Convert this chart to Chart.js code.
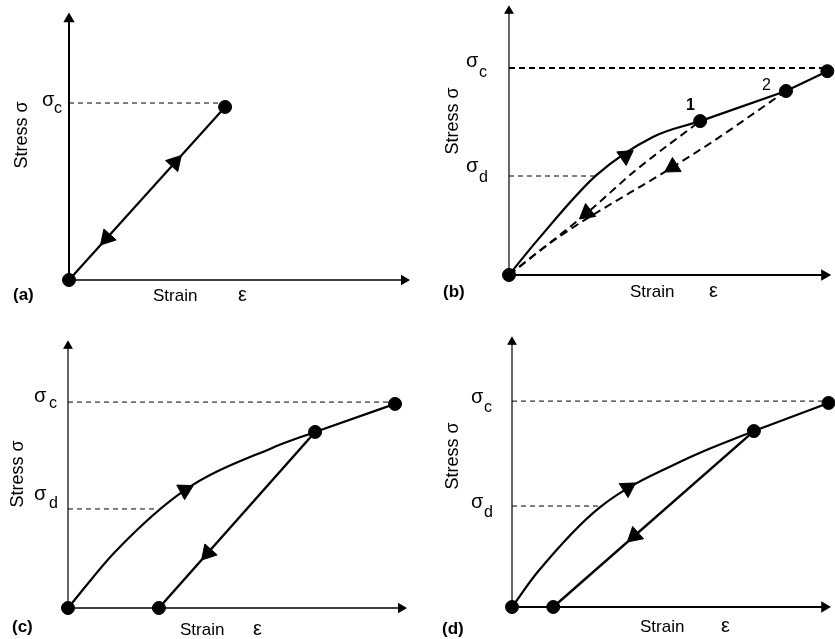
<!DOCTYPE html>
<html>
<head>
<meta charset="utf-8">
<script src="https://cdn.jsdelivr.net/npm/chart.js@4.4.0/dist/chart.umd.min.js"></script>
<style>
  body{margin:0;background:#fff;}
  canvas{position:absolute;}
</style>
</head>
<body>
<canvas id="pa" width="417" height="318" style="left:0;top:0"></canvas>
<canvas id="pb" width="418" height="318" style="left:417px;top:0"></canvas>
<canvas id="pc" width="417" height="321" style="left:0;top:318px"></canvas>
<canvas id="pd" width="418" height="321" style="left:417px;top:318px"></canvas>
<script>
const FONT = '"Liberation Sans", Arial, sans-serif';
const AXIS_MAX = 10;

// text
const panelTags = ['(a)', '(b)', '(c)', '(d)'];
const xTitle = 'Strain';
const xSymbol = 'ε';
const yTitle = 'Stress σ';
const pointNames = ['1', '2'];

// (a) elastic: load and unload on the same line
const aPath = [[0,0],[4.66,6.63]];
const aSigmaC = 6.78;
const aDots = [[0,0],[4.66,6.63]];
const aArrows = [[3.16,4.50, 4.66,6.63],[1.13,1.61, 0,0]];   // x, y, heading x, heading y

// (b) damage, unloading back to origin
const bLoading = [[0,0],[0.91,1.33],[2.78,3.79],[4.56,5.23],[6.06,5.83]];
const bUpper = [[6.06,5.83],[8.78,6.97],[10.09,7.72]];
const bUnload1 = [[0,0],[2.47,2.35],[4.03,3.98],[6.06,5.83]];
const bUnload2 = [[0,0],[1.44,1.33],[5.19,4.09],[6.44,5.04],[8.78,6.97]];
const bSigmaC = 7.84, bSigmaD = 3.75;
const bDots = [[0,0],[6.06,5.83],[8.78,6.97],[10.09,7.72]];
const bArrows = [[3.69,4.51, 4.56,5.23],[2.47,2.35, 0,0],[5.19,4.09, 1.44,1.33]];

// (c) plastic, large residual strain
const cLoading = [[0,0],[1.41,2.14],[3.51,4.50],[6.13,6.11],[7.42,6.72]];
const cUpper = [[7.42,6.72],[9.82,7.79]];
const cUnload = [[2.73,0],[7.42,6.72]];
const cSigmaC = 7.86, cSigmaD = 3.78;
const cDots = [[0,0],[2.73,0],[7.42,6.72],[9.82,7.79]];
const cArrows = [[3.51,4.50, 4.92,5.46],[4.20,2.10, 2.73,0]];

// (d) damage + small residual strain
const dLoading = [[0,0],[0.82,1.32],[2.82,3.77],[5.64,5.62],[7.74,6.64]];
const dUpper = [[7.74,6.64],[10.13,7.70]];
const dUnload = [[1.32,0],[7.74,6.64]];
const dSigmaC = 7.77, dSigmaD = 3.81;
const dDots = [[0,0],[1.32,0],[7.74,6.64],[10.13,7.70]];
const dArrows = [[3.70,4.49, 4.26,4.91],[3.92,2.69, 1.32,0]];

const xy = arr => arr.map(([x, y]) => ({x, y}));

function line(data, width, dash, smooth){
  return {
    data: xy(data), showLine: true, borderColor: '#000', borderWidth: width,
    borderDash: dash || [], pointRadius: 0, clip: false,
    tension: smooth ? 0.4 : 0, cubicInterpolationMode: smooth ? 'monotone' : 'default'
  };
}

function axis(data, width, rot){
  return {
    data: xy(data), showLine: true, borderColor: '#000', borderWidth: width, clip: false,
    pointStyle: 'triangle', pointRotation: rot, pointBackgroundColor: '#000', pointBorderColor: '#000',
    pointRadius: c => c.dataIndex === 1 ? 4.5 : 0
  };
}

function dots(data){
  return { data: xy(data), showLine: false, clip: false, pointRadius: 6.5,
    pointBackgroundColor: '#000', pointBorderColor: '#000' };
}

function arrows(list){
  return {
    data: xy(list.map(a => [a[0], a[1]])), showLine: false, clip: false,
    pointStyle: 'triangle', pointRadius: 9.5, pointBorderWidth: 1,
    pointBackgroundColor: '#000', pointBorderColor: '#000',
    pointRotation: c => {
      const a = list[c.dataIndex];
      const xs = c.chart.scales.x, ys = c.chart.scales.y;
      const dx = xs.getPixelForValue(a[2]) - xs.getPixelForValue(a[0]);
      const dy = ys.getPixelForValue(a[3]) - ys.getPixelForValue(a[1]);
      return Math.atan2(dx, -dy) * 180 / Math.PI;
    }
  };
}

const panelText = {
  id: 'panelText',
  afterDraw(chart, args, opts){
    const ctx = chart.ctx;
    ctx.save();
    ctx.fillStyle = '#000';
    ctx.textBaseline = 'alphabetic';
    (opts.items || []).forEach(t => {
      ctx.font = (t.bold ? 'bold ' : '') + (t.size || 17) + 'px ' + FONT;
      if(t.rot){
        ctx.save();
        ctx.translate(t.x, t.y);
        ctx.rotate(-Math.PI / 2);
        ctx.textAlign = 'center';
        ctx.fillText(t.text, 0, 0);
        ctx.restore();
      } else {
        ctx.textAlign = 'left';
        ctx.fillText(t.text, t.x, t.y);
      }
    });
    ctx.restore();
  }
};

function panel(id, padding, datasets, items){
  new Chart(document.getElementById(id), {
    type: 'scatter',
    data: { datasets },
    options: {
      responsive: false,
      animation: false,
      events: [],
      layout: { padding },
      scales: {
        x: { type: 'linear', min: 0, max: AXIS_MAX, display: false },
        y: { type: 'linear', min: 0, max: AXIS_MAX, display: false }
      },
      plugins: { legend: { display: false }, tooltip: { enabled: false }, panelText: { items } }
    },
    plugins: [panelText]
  });
}

const xAxis = [[0,0],[AXIS_MAX,0]];
const yAxis = [[0,0],[0,AXIS_MAX]];

panel('pa', {left: 69, right: 13, top: 19, bottom: 38}, [
  line([[0,aSigmaC],[aPath[1][0],aSigmaC]], 1, [5,4]),
  axis(yAxis, 2, 0),
  axis(xAxis, 1.5, 90),
  line(aPath, 2.2),
  arrows(aArrows),
  dots(aDots)
], [
  {text: yTitle, x: 27, y: 135, rot: true, size: 18},
  {text: 'σ', x: 42, y: 106, size: 20}, {text: 'c', x: 54, y: 113, size: 16},
  {text: panelTags[0], x: 13, y: 300, bold: true},
  {text: xTitle, x: 153, y: 301}, {text: xSymbol, x: 238, y: 301, size: 20}
]);

panel('pb', {left: 92, right: 6, top: 11, bottom: 43}, [
  line([[0,bSigmaC],[bUpper[2][0],bSigmaC]], 1.8, [6,4]),
  line([[0,bSigmaD],[bLoading[2][0],bSigmaD]], 1, [5,4]),
  axis(yAxis, 1.2, 0),
  axis(xAxis, 2.2, 90),
  line(bLoading, 2.2, null, true),
  line(bUpper, 2.2),
  line(bUnload1, 2, [8,5], true),
  line(bUnload2, 2, [8,5], true),
  arrows(bArrows),
  dots(bDots)
], [
  {text: yTitle, x: 41, y: 121, rot: true, size: 18},
  {text: 'σ', x: 49, y: 67, size: 20}, {text: 'c', x: 62, y: 77, size: 16},
  {text: 'σ', x: 49, y: 172, size: 20}, {text: 'd', x: 62, y: 182, size: 16},
  {text: panelTags[1], x: 26, y: 297, bold: true},
  {text: xTitle, x: 213, y: 297}, {text: xSymbol, x: 292, y: 297, size: 20},
  {text: pointNames[0], x: 269, y: 110, bold: true, size: 16},
  {text: pointNames[1], x: 345, y: 90, size: 16}
]);

panel('pc', {left: 68, right: 16, top: 28, bottom: 31}, [
  line([[0,cSigmaC],[cUpper[1][0],cSigmaC]], 1, [5,4]),
  line([[0,cSigmaD],[2.61,cSigmaD]], 1, [5,4]),
  axis(yAxis, 1.2, 0),
  axis(xAxis, 1.5, 90),
  line(cLoading, 2.2, null, true),
  line(cUpper, 2.2),
  line(cUnload, 2.4),
  arrows(cArrows),
  dots(cDots)
], [
  {text: yTitle, x: 23, y: 156, rot: true, size: 18},
  {text: 'σ', x: 34, y: 84, size: 20}, {text: 'c', x: 49, y: 90, size: 16},
  {text: 'σ', x: 34, y: 182, size: 20}, {text: 'd', x: 49, y: 190, size: 16},
  {text: panelTags[2], x: 12, y: 314, bold: true},
  {text: xTitle, x: 180, y: 317}, {text: xSymbol, x: 253, y: 317, size: 20}
]);

panel('pd', {left: 95, right: 4, top: 24, bottom: 32}, [
  line([[0,dSigmaC],[dUpper[1][0],dSigmaC]], 1, [5,4]),
  line([[0,dSigmaD],[dLoading[2][0],dSigmaD]], 1, [5,4]),
  axis(yAxis, 1.2, 0),
  axis(xAxis, 2, 90),
  line(dLoading, 2.2, null, true),
  line(dUpper, 2.2),
  line(dUnload, 2.4),
  arrows(dArrows),
  dots(dDots)
], [
  {text: yTitle, x: 41, y: 138, rot: true, size: 18},
  {text: 'σ', x: 54, y: 85, size: 20}, {text: 'c', x: 67, y: 94, size: 16},
  {text: 'σ', x: 54, y: 190, size: 20}, {text: 'd', x: 67, y: 199, size: 16},
  {text: panelTags[3], x: 25, y: 316, bold: true},
  {text: xTitle, x: 223, y: 314}, {text: xSymbol, x: 304, y: 314, size: 20}
]);
</script>
</body>
</html>
